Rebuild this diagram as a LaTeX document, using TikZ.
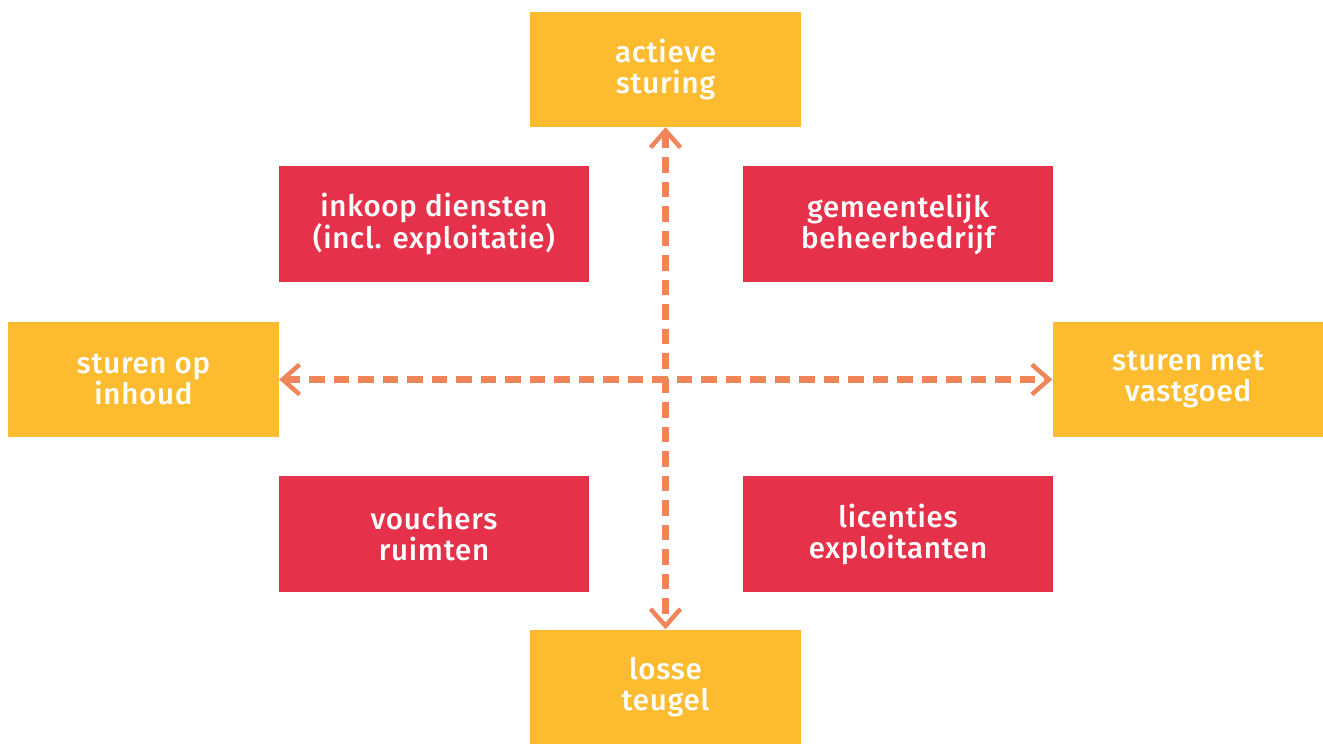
\documentclass[tikz,border=0pt]{standalone}
\usepackage{fontspec}
\setmainfont{Fira Sans Medium}[LetterSpace=2.5]
\usetikzlibrary{arrows.meta}
\definecolor{boxyellow}{HTML}{FDBC2F}
\definecolor{boxred}{HTML}{E6314A}
\definecolor{arrorange}{HTML}{F0855A}
\tikzset{
  ybox/.style={fill=boxyellow, draw=none, minimum width=271pt, minimum height=115pt, text=white, align=center, font=\fontsize{29.5}{31}\selectfont, inner sep=0pt},
  rbox/.style={fill=boxred, draw=none, minimum width=310pt, minimum height=116pt, text=white, align=center, font=\fontsize{29.5}{31}\selectfont, inner sep=0pt},
  axisarrow/.style={draw=arrorange, line width=6.5pt, dash pattern=on 15.5pt off 9pt, {Straight Barb[length=17pt,width=30pt,line width=4.5pt]}-{Straight Barb[length=17pt,width=30pt,line width=4.5pt]}}
}
\begin{document}
\begin{tikzpicture}[x=1pt,y=-1pt]
\useasboundingbox (0,0) rectangle (1323,744);
\node[ybox] (top) at (665.5,69.5) {actieve\\sturing};
\node[ybox] (left) at (143.5,379.5) {sturen op\\inhoud};
\node[ybox] (right) at (1188,379.5) {sturen met\\vastgoed};
\node[ybox] (bottom) at (665.5,687) {losse\\teugel};
\node[rbox] (tl) at (434,224) {inkoop diensten\\(incl. exploitatie)};
\node[rbox] (tr) at (898,224) {gemeentelijk\\beheerbedrijf};
\node[rbox] (bl) at (434,534) {vouchers\\ruimten};
\node[rbox] (br) at (898,534) {licenties\\exploitanten};
\draw[axisarrow] (top.south) -- (bottom.north);
\draw[axisarrow] (left.east) -- (right.west);
\end{tikzpicture}
\end{document}
